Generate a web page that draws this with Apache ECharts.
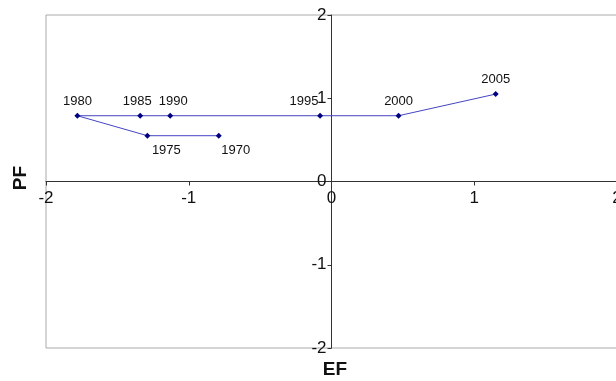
<!DOCTYPE html>
<html>
<head>
<meta charset="utf-8">
<script src="https://cdn.jsdelivr.net/npm/echarts@6/dist/echarts.min.js"></script>
<style>html,body{margin:0;padding:0;background:#fff}#c{width:616px;height:381px}</style>
</head>
<body>
<div id="c"></div>
<script>
// Data
const years = ['1970', '1975', '1980', '1985', '1990', '1995', '2000', '2005'];
const efValues = [-0.79, -1.29, -1.78, -1.34, -1.13, -0.08, 0.47, 1.15];
const pfValues = [0.55, 0.55, 0.79, 0.79, 0.79, 0.79, 0.79, 1.05];
const axisTicks = [-2, -1, 0, 1, 2];

// Label placement styles (per year)
const labelStyle = {
  '1970': { position: 'bottom', offset: [17, 0] },
  '1975': { position: 'bottom', offset: [19, 0] },
  '1980': { position: 'top', offset: [0, 0] },
  '1985': { position: 'top', offset: [-3, 0] },
  '1990': { position: 'top', offset: [3, 0] },
  '1995': { position: 'top', offset: [-16, 0] },
  '2000': { position: 'top', offset: [0, 0] },
  '2005': { position: 'top', offset: [0, 0] }
};

const seriesData = years.map((y, i) => ({
  value: [efValues[i], pfValues[i]],
  name: y,
  label: Object.assign({ show: true, formatter: y, distance: 5 }, labelStyle[y])
}));

// layout
const G = { left: 46, top: 15, right: -1, bottom: 33, W: 616, H: 381 };
const plotW = G.W - G.left - G.right, plotH = G.H - G.top - G.bottom;
const tickMin = axisTicks[0], tickMax = axisTicks[axisTicks.length - 1];
const zeroX = G.left + (0 - tickMin) / (tickMax - tickMin) * plotW;
const zeroY = G.top + (tickMax - 0) / (tickMax - tickMin) * plotH;

const chart = echarts.init(document.getElementById('c'), null, { renderer: 'canvas' });
const axisCommon = {
  type: 'value',
  min: tickMin,
  max: tickMax,
  interval: axisTicks[1] - axisTicks[0],
  splitLine: { show: false },
  axisLine: { onZero: false, lineStyle: { color: '#333', width: 1 } },
  axisTick: { show: true, length: 4, lineStyle: { color: '#333' } },
  axisLabel: { color: '#111', fontSize: 17, fontFamily: 'Liberation Sans, Arial, sans-serif' }
};
chart.setOption({
  animation: false,
  backgroundColor: '#fff',
  grid: {
    left: G.left, top: G.top, right: G.right, bottom: G.bottom,
    show: true, borderColor: '#aaa', borderWidth: 1,
    containLabel: false, outerBoundsMode: 'none'
  },
  xAxis: Object.assign({}, axisCommon, {
    position: 'bottom',
    offset: -(G.H - G.bottom - zeroY),
    axisLabel: Object.assign({}, axisCommon.axisLabel, { margin: 8 })
  }),
  yAxis: Object.assign({}, axisCommon, {
    position: 'left',
    offset: -(zeroX - G.left),
    axisLabel: Object.assign({}, axisCommon.axisLabel, { margin: 5 })
  }),
  graphic: [
    { type: 'text', x: 21, y: 178, rotation: Math.PI / 2,
      style: { text: 'PF', font: 'bold 19px Liberation Sans, Arial, sans-serif', fill: '#111', align: 'center', verticalAlign: 'middle' } },
    { type: 'text', x: 335, y: 370,
      style: { text: 'EF', font: 'bold 19px Liberation Sans, Arial, sans-serif', fill: '#111', align: 'center', verticalAlign: 'middle' } }
  ],
  series: [{
    type: 'line',
    data: seriesData,
    symbol: 'diamond',
    symbolSize: 6,
    itemStyle: { color: '#000080' },
    lineStyle: { color: '#4545c2', width: 1 },
    label: { color: '#111', fontSize: 13, fontFamily: 'Liberation Sans, Arial, sans-serif' }
  }]
});
</script>
</body>
</html>
